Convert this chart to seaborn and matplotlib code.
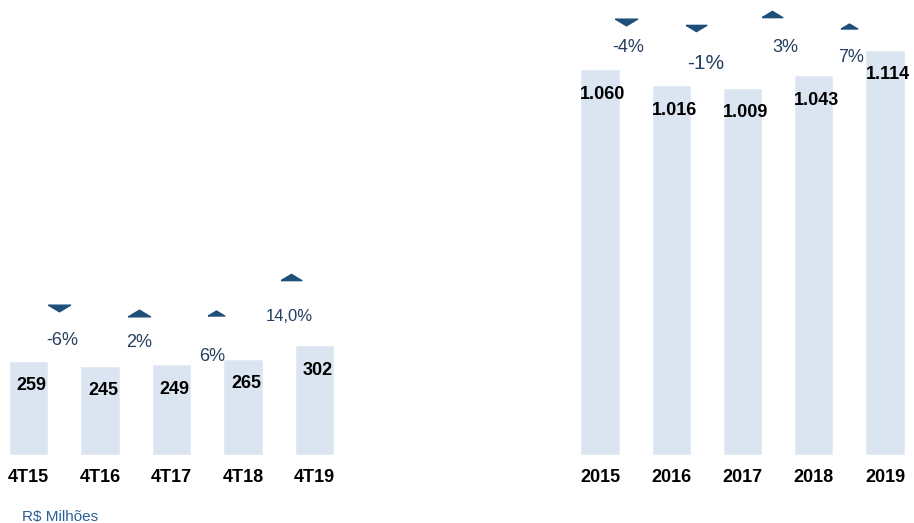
import matplotlib
matplotlib.use('Agg')
import matplotlib.pyplot as plt
import seaborn as sns
from matplotlib.path import Path
from matplotlib.transforms import offset_copy

# Data
quarters = ['4T15', '4T16', '4T17', '4T18', '4T19']
quarter_values = [259, 245, 249, 265, 302]
quarter_labels = ['259', '245', '249', '265', '302']
quarter_changes = ['-6%', '2%', '6%', '14,0%']
quarter_up = [False, True, True, True]

years = ['2015', '2016', '2017', '2018', '2019']
year_values = [1060, 1016, 1009, 1043, 1114]
year_labels = ['1.060', '1.016', '1.009', '1.043', '1.114']
year_changes = ['-4%', '-1%', '3%', '7%']
year_up = [False, False, True, True]

# Layout (pixel nudges for the change markers / labels)
quarter_tri_off = [(-5, 53), (3, 51), (9, 46), (12, 68)]
quarter_txt_off = [(-2, 20), (3, 22), (5, 2), (11, 29)]
quarter_txt_size = [13, 13, 13, 12]
quarter_tri_size = [16, 16, 12, 15]
year_tri_off = [(-10, 47), (-11, 57), (-6, 61), (0, 24)]
year_txt_off = [(-7, 22), (-1, 22), (7, 28), (2, -8)]
year_txt_size = [13, 15, 13, 13]
year_tri_size = [16, 15, 15, 12]

bar_color = '#dbe5f1'
tri_color = '#1f4e79'
pct_color = '#243f60'

sns.set_theme(style='white')
plt.rcParams['font.family'] = ['Liberation Sans', 'DejaVu Sans']

fig = plt.figure(figsize=(9.14, 5.23), dpi=100)
W, H = 914, 523
ax1 = fig.add_axes([0 / W, 68 / H, 343 / W, 455 / H])
ax2 = fig.add_axes([571.5 / W, 68 / H, 342 / W, 455 / H])

tri_down = Path([(-1, 0.3), (1, 0.3), (0, -0.3), (-1, 0.3)])
tri_up = Path([(-1, -0.3), (1, -0.3), (0, 0.3), (-1, -0.3)])


def draw_panel(ax, cats, vals, labels, changes, ups, tri_off, txt_off, txt_size, tri_size):
    sns.barplot(x=cats, y=vals, color=bar_color, saturation=1, width=0.55, ax=ax)
    ax.set_xlim(-0.4, 4.4)
    ax.set_ylim(0, 1250)
    for s in ax.spines.values():
        s.set_visible(False)
    ax.set_yticks([])
    ax.tick_params(axis='x', length=0, pad=10)
    for t in ax.get_xticklabels():
        t.set_fontweight('bold')
        t.set_fontsize(13)
        t.set_color('black')
    for i, (v, lab) in enumerate(zip(vals, labels)):
        ax.annotate(lab, (i, v), xytext=(3, -25), textcoords='offset pixels',
                    ha='center', va='center', fontsize=13, fontweight='bold', color='black')
    for i, (ch, up) in enumerate(zip(changes, ups)):
        top = max(vals[i], vals[i + 1])
        dx, dy = tri_off[i]
        tr = offset_copy(ax.transData, fig=fig, x=dx, y=dy, units='dots')
        ax.plot([i + 0.5], [top], marker=tri_up if up else tri_down, markersize=tri_size[i],
                color=tri_color, transform=tr, clip_on=False, linestyle='none')
        tx, ty = txt_off[i]
        ax.annotate(ch, (i + 0.5, top), xytext=(tx, ty), textcoords='offset pixels',
                    ha='center', va='center', fontsize=txt_size[i], color=pct_color)


draw_panel(ax1, quarters, quarter_values, quarter_labels, quarter_changes, quarter_up,
           quarter_tri_off, quarter_txt_off, quarter_txt_size, quarter_tri_size)
draw_panel(ax2, years, year_values, year_labels, year_changes, year_up,
           year_tri_off, year_txt_off, year_txt_size, year_tri_size)

fig.text(22 / W, 1 - 517 / H, 'R$ Milhões', fontsize=11, color='#2e5e99', ha='left', va='center')

fig.savefig('out.png', dpi=100)
